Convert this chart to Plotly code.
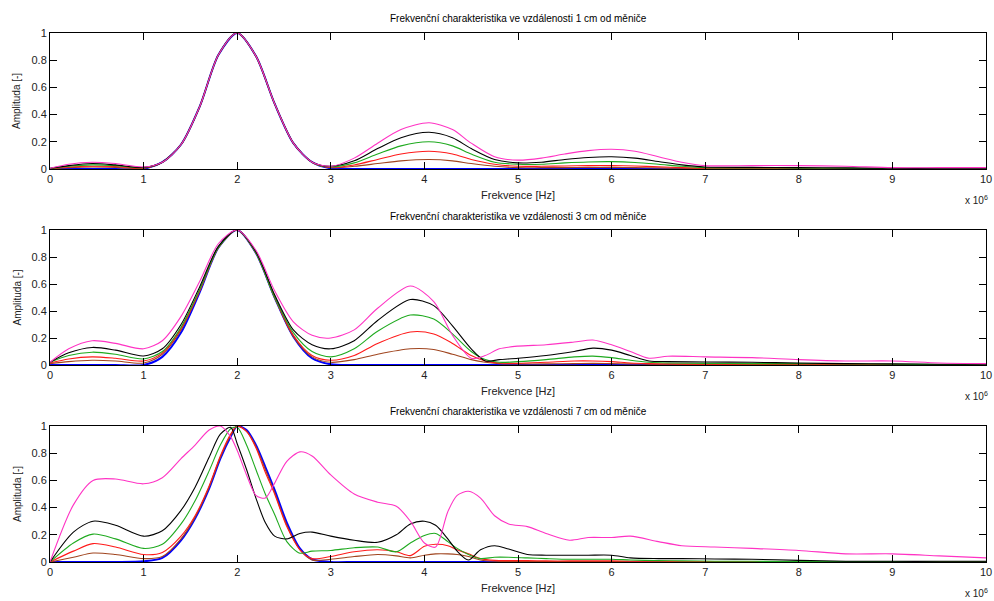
import plotly.graph_objects as go

# Frequency axis in units of 1e6 Hz
X1 = [0, 0.2, 0.45, 0.7, 1.0, 1.2, 1.4, 1.6, 1.8, 2.0, 2.2, 2.4, 2.6, 2.8, 3.0,
      3.25, 3.5, 3.75, 4.05, 4.3, 4.5, 4.75, 5.0, 5.25, 5.5, 5.75, 6.0, 6.25, 6.5,
      6.75, 7.0, 7.5, 8.0, 8.5, 9.0, 9.5, 10]
BLUE1 = [0, 0, 0, 0, 0.002, 0.05, 0.18, 0.46, 0.84, 1.0, 0.83, 0.48, 0.19, 0.05, 0.005,
         0, 0, 0, 0, 0, 0, 0, 0, 0, 0, 0, 0, 0, 0, 0, 0, 0, 0, 0, 0, 0, 0]
BROWN1 = [0.002, 0.01, 0.015, 0.012, 0.005, 0.05, 0.18, 0.46, 0.84, 1.0, 0.83, 0.48, 0.19, 0.05, 0.01,
          0.02, 0.04, 0.06, 0.07, 0.06, 0.04, 0.02, 0.01, 0.01, 0.01, 0.012, 0.012, 0.01, 0.008,
          0.005, 0.004, 0.003, 0.002, 0.002, 0.002, 0.001, 0.001]
RED1 = [0.003, 0.015, 0.02, 0.018, 0.008, 0.05, 0.18, 0.46, 0.84, 1.0, 0.83, 0.48, 0.19, 0.05, 0.012,
        0.03, 0.07, 0.11, 0.13, 0.11, 0.07, 0.035, 0.02, 0.02, 0.022, 0.025, 0.025, 0.022, 0.016,
        0.01, 0.006, 0.005, 0.004, 0.003, 0.003, 0.002, 0.002]
GREEN1 = [0.004, 0.02, 0.03, 0.025, 0.01, 0.05, 0.18, 0.46, 0.84, 1.0, 0.83, 0.48, 0.19, 0.05, 0.015,
          0.045, 0.11, 0.17, 0.2, 0.17, 0.11, 0.05, 0.035, 0.035, 0.045, 0.052, 0.054, 0.048, 0.035,
          0.02, 0.01, 0.008, 0.006, 0.005, 0.004, 0.003, 0.003]
BLACK1 = [0.005, 0.025, 0.04, 0.03, 0.012, 0.05, 0.18, 0.46, 0.84, 1.0, 0.83, 0.48, 0.19, 0.05, 0.02,
          0.06, 0.15, 0.23, 0.27, 0.23, 0.15, 0.07, 0.045, 0.05, 0.07, 0.085, 0.09, 0.08, 0.055,
          0.03, 0.015, 0.012, 0.01, 0.008, 0.005, 0.005, 0.005]
MAGENTA1 = [0.005, 0.035, 0.05, 0.04, 0.015, 0.05, 0.18, 0.46, 0.84, 1.0, 0.83, 0.48, 0.19, 0.05, 0.02,
            0.08, 0.19, 0.29, 0.34, 0.29, 0.19, 0.09, 0.065, 0.08, 0.11, 0.135, 0.145, 0.13, 0.09,
            0.05, 0.025, 0.025, 0.025, 0.02, 0.01, 0.01, 0.01]

X2 = [0, 0.2, 0.45, 0.7, 1.0, 1.2, 1.4, 1.6, 1.8, 2.0, 2.2, 2.4, 2.6, 2.8, 3.0,
      3.25, 3.5, 3.85, 4.1, 4.3, 4.5, 4.65, 4.8, 5.0, 5.3, 5.6, 5.8, 6.0, 6.2, 6.4,
      6.6, 7.0, 7.5, 8.0, 8.5, 9.0, 9.5, 10]
BLUE2 = [0, 0, 0, 0, 0, 0.06, 0.24, 0.54, 0.87, 1.0, 0.83, 0.5, 0.21, 0.05, 0.005,
         0, 0, 0, 0, 0, 0, 0, 0, 0, 0, 0, 0, 0, 0, 0, 0, 0, 0, 0, 0, 0, 0, 0]
BROWN2 = [0.01, 0.025, 0.035, 0.03, 0.015, 0.08, 0.26, 0.55, 0.87, 1.0, 0.83, 0.5, 0.21, 0.06, 0.02,
          0.04, 0.08, 0.12, 0.115, 0.08, 0.04, 0.02, 0.01, 0.008, 0.008, 0.01, 0.012, 0.01, 0.008,
          0.006, 0.005, 0.004, 0.004, 0.003, 0.003, 0.002, 0.002, 0.002]
RED2 = [0.015, 0.045, 0.06, 0.05, 0.03, 0.09, 0.27, 0.55, 0.87, 1.0, 0.83, 0.5, 0.22, 0.07, 0.035,
        0.07, 0.16, 0.245, 0.23, 0.16, 0.07, 0.03, 0.015, 0.012, 0.02, 0.03, 0.03, 0.025, 0.015,
        0.01, 0.008, 0.006, 0.005, 0.005, 0.004, 0.003, 0.002, 0.002]
GREEN2 = [0.02, 0.07, 0.095, 0.08, 0.045, 0.1, 0.28, 0.56, 0.87, 1.0, 0.83, 0.5, 0.24, 0.1, 0.06,
          0.12, 0.25, 0.37, 0.34, 0.23, 0.1, 0.04, 0.02, 0.025, 0.04, 0.06, 0.066, 0.055, 0.035,
          0.02, 0.015, 0.012, 0.01, 0.01, 0.008, 0.006, 0.004, 0.003]
BLACK2 = [0.02, 0.09, 0.13, 0.11, 0.067, 0.12, 0.3, 0.58, 0.88, 1.0, 0.84, 0.52, 0.26, 0.15, 0.12,
          0.18, 0.33, 0.485, 0.44, 0.29, 0.12, 0.03, 0.04, 0.05, 0.07, 0.1, 0.125, 0.11, 0.07,
          0.03, 0.025, 0.022, 0.02, 0.015, 0.01, 0.008, 0.006, 0.005]
MAGENTA2 = [0.02, 0.12, 0.18, 0.16, 0.12, 0.18, 0.36, 0.62, 0.9, 1.0, 0.85, 0.55, 0.32, 0.22, 0.2,
            0.26, 0.42, 0.585, 0.47, 0.22, 0.05, 0.07, 0.12, 0.14, 0.15, 0.17, 0.185, 0.15, 0.1,
            0.05, 0.065, 0.06, 0.055, 0.04, 0.03, 0.03, 0.015, 0.01]

X3 = [0, 0.25, 0.46, 0.7, 1.0, 1.2, 1.4, 1.55, 1.7, 1.82, 1.93, 2.0, 2.1, 2.2, 2.3,
      2.4, 2.53, 2.67, 2.8, 3.0, 3.25, 3.5, 3.7, 3.85, 4.0, 4.12, 4.25, 4.35, 4.47, 4.6,
      4.75, 4.9, 5.1, 5.3, 5.55, 5.75, 6.0, 6.2, 6.5, 6.75, 7.1, 7.5, 8.0, 8.5, 9.0, 9.5, 10]
BLUE3 = [0, 0, 0, 0, 0.005, 0.03, 0.16, 0.32, 0.54, 0.76, 0.92, 1.0, 0.97, 0.86, 0.7,
         0.53, 0.29, 0.1, 0.02, 0, 0, 0, 0, 0, 0, 0, 0, 0, 0, 0,
         0, 0, 0, 0, 0, 0, 0, 0, 0, 0, 0, 0, 0, 0, 0, 0, 0]
BROWN3 = [0, 0.035, 0.066, 0.055, 0.025, 0.04, 0.17, 0.33, 0.55, 0.77, 0.93, 1.0, 0.96, 0.85, 0.68,
          0.51, 0.27, 0.09, 0.015, 0.02, 0.04, 0.055, 0.045, 0.03, 0.05, 0.06, 0.06, 0.055, 0.04, 0.015,
          0.005, 0.004, 0.003, 0.003, 0.003, 0.003, 0.003, 0.002, 0.002, 0.002, 0.002, 0.001, 0.001,
          0.001, 0.001, 0.001, 0.001]
RED3 = [0, 0.08, 0.135, 0.11, 0.055, 0.07, 0.19, 0.34, 0.56, 0.78, 0.94, 1.0, 0.96, 0.84, 0.66,
        0.5, 0.26, 0.09, 0.025, 0.04, 0.075, 0.09, 0.075, 0.047, 0.115, 0.13, 0.12, 0.09, 0.06, 0.025,
        0.012, 0.01, 0.01, 0.008, 0.008, 0.008, 0.008, 0.006, 0.005, 0.004, 0.003, 0.003, 0.002,
        0.002, 0.002, 0.001, 0.001]
GREEN3 = [0, 0.14, 0.205, 0.17, 0.1, 0.13, 0.28, 0.45, 0.67, 0.86, 0.98, 0.99, 0.86, 0.68, 0.5,
          0.35, 0.15, 0.065, 0.08, 0.085, 0.105, 0.11, 0.075, 0.14, 0.195, 0.21, 0.15, 0.1, 0.056, 0.025,
          0.035, 0.035, 0.03, 0.025, 0.02, 0.02, 0.02, 0.015, 0.01, 0.008, 0.006, 0.005, 0.004,
          0.003, 0.003, 0.002, 0.002]
BLACK3 = [0, 0.22, 0.3, 0.27, 0.19, 0.23, 0.38, 0.55, 0.77, 0.94, 0.99, 0.87, 0.68, 0.47, 0.29,
          0.19, 0.17, 0.21, 0.22, 0.19, 0.16, 0.145, 0.2, 0.28, 0.3, 0.27, 0.17, 0.08, 0.015, 0.09,
          0.12, 0.095, 0.055, 0.05, 0.05, 0.05, 0.05, 0.03, 0.025, 0.025, 0.022, 0.02, 0.012,
          0.006, 0.005, 0.005, 0.005]
MAGENTA3 = [0, 0.42, 0.6, 0.61, 0.575, 0.62, 0.76, 0.86, 0.97, 1.0, 0.92, 0.82, 0.64, 0.49, 0.47,
            0.58, 0.74, 0.81, 0.78, 0.64, 0.5, 0.44, 0.41, 0.3, 0.14, 0.11, 0.37, 0.49, 0.52, 0.47,
            0.34, 0.28, 0.26, 0.21, 0.16, 0.18, 0.18, 0.19, 0.15, 0.12, 0.11, 0.1, 0.085, 0.06,
            0.06, 0.045, 0.03]

TITLES = ["Frekvenční charakteristika ve vzdálenosti 1 cm od měniče",
          "Frekvenční charakteristika ve vzdálenosti 3 cm od měniče",
          "Frekvenční charakteristika ve vzdálenosti 7 cm od měniče"]
X_TICKS = [0, 1, 2, 3, 4, 5, 6, 7, 8, 9, 10]
Y_TICKS = [0, 0.2, 0.4, 0.6, 0.8, 1]
Y_TICK_TEXT = ["0", "0.2", "0.4", "0.6", "0.8", "1"]

COLORS = ["#0000ff", "#a0451f", "#ff1a1a", "#1faa1f", "#000000", "#ff33c4"]

PANELS = [
    (X1, [BLUE1, BROWN1, RED1, GREEN1, BLACK1, MAGENTA1]),
    (X2, [BLUE2, BROWN2, RED2, GREEN2, BLACK2, MAGENTA2]),
    (X3, [BLUE3, BROWN3, RED3, GREEN3, BLACK3, MAGENTA3]),
]

W, H = 994, 601


def px(x):
    return x / W


def py(y):
    return 1 - y / H


# plot area boxes in window pixels (top, bottom)
BOXES = [(33, 169), (230, 365), (426, 562)]
X_LEFT, X_RIGHT = 50, 986

FONT = "Arial, Liberation Sans, sans-serif"

fig = go.Figure()
layout = dict(
    width=W, height=H,
    paper_bgcolor="white", plot_bgcolor="white",
    margin=dict(l=0, r=0, t=0, b=0),
    showlegend=False,
    font=dict(family=FONT, size=11, color="#222222"),
)
annotations = []

for i, (xs, series) in enumerate(PANELS):
    n = "" if i == 0 else str(i + 1)
    xa, ya = "x" + n, "y" + n
    for k, ys in enumerate(series):
        fig.add_trace(go.Scatter(
            x=xs, y=ys, mode="lines", xaxis=xa, yaxis=ya,
            line=dict(color=COLORS[k], width=2 if k == 0 else 1.1, shape="spline", smoothing=0.8),
            hoverinfo="skip",
        ))
    top, bot = BOXES[i]
    layout["xaxis" + n] = dict(
        domain=[px(X_LEFT), px(X_RIGHT)], anchor=ya, range=[0, 10], automargin=False,
        tickvals=X_TICKS, ticks="inside", ticklen=7, tickcolor="#000000",
        showline=True, linecolor="#000000", linewidth=1, mirror="ticks",
        showgrid=False, zeroline=False, tickfont=dict(size=11, color="#222222"),
    )
    layout["yaxis" + n] = dict(
        domain=[py(bot), py(top)], anchor=xa, range=[0, 1], automargin=False,
        tickvals=Y_TICKS, ticktext=Y_TICK_TEXT, ticks="inside", ticklen=7, tickcolor="#000000",
        showline=True, linecolor="#000000", linewidth=1, mirror="ticks",
        showgrid=False, zeroline=False, tickfont=dict(size=11, color="#222222"),
    )
    mid = px((X_LEFT + X_RIGHT) / 2)
    annotations.append(dict(text=TITLES[i], x=mid, y=py(top - 14), xref="paper", yref="paper",
                            showarrow=False, xanchor="center", yanchor="middle",
                            font=dict(size=10, color="#000000")))
    annotations.append(dict(text="Frekvence [Hz]", x=mid, y=py(bot + 26), xref="paper", yref="paper",
                            showarrow=False, xanchor="center", yanchor="middle",
                            font=dict(size=11, color="#222222")))
    annotations.append(dict(text="Amplituda [-]", x=px(17), y=py((top + bot) / 2), xref="paper",
                            yref="paper", showarrow=False, textangle=-90, xanchor="center",
                            yanchor="middle", font=dict(size=10, color="#222222")))
    annotations.append(dict(text="x 10<sup>6</sup>", x=px(990), y=py(bot + 31), xref="paper",
                            yref="paper", showarrow=False, xanchor="right", yanchor="middle",
                            font=dict(size=10, color="#222222")))

layout["annotations"] = annotations
fig.update_layout(**layout)
fig.write_html("out.html", config={"displayModeBar": False},
               post_script="document.body.style.margin='0';document.body.style.overflow='hidden';")
